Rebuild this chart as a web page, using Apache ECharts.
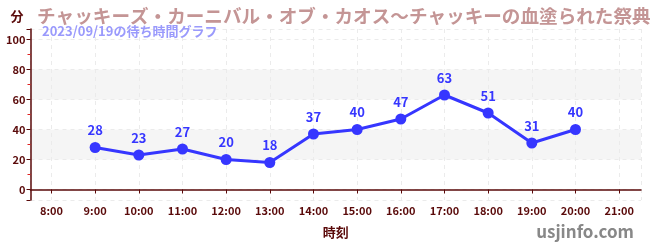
<!DOCTYPE html>
<html><head><meta charset="utf-8">
<script src="https://cdn.jsdelivr.net/npm/echarts@6/dist/echarts.min.js"></script>
<style>html,body{margin:0;padding:0;background:#fff}#c{width:650px;height:250px}</style>
</head><body><div id="c"></div>
<script>
const titleText = 'チャッキーズ・カーニバル・オブ・カオス～チャッキーの血塗られた祭典';
const subText = '2023/09/19の待ち時間グラフ';
const times = ['9:00','10:00','11:00','12:00','13:00','14:00','15:00','16:00','17:00','18:00','19:00','20:00'];
const waits = [28, 23, 27, 20, 18, 37, 40, 47, 63, 51, 31, 40];
const xTickLabels = ['8:00','9:00','10:00','11:00','12:00','13:00','14:00','15:00','16:00','17:00','18:00','19:00','20:00','21:00'];
const yTicks = [0, 20, 40, 60, 80, 100];

const hourOf = s => parseInt(s.split(':')[0], 10);
const firstHour = hourOf(xTickLabels[0]);
const lastHour = hourOf(xTickLabels[xTickLabels.length - 1]);
const seriesData = times.map((t, i) => [hourOf(t), waits[i]]);

const dark = '#5a0a0a';
const blue = '#3636ff';
const font = '"Noto Sans CJK JP", "Noto Sans", sans-serif';

const chart = echarts.init(document.getElementById('c'), null, {renderer: 'canvas'});
chart.setOption({
  animation: false,
  textStyle: {fontFamily: font},
  title: [
    {text: titleText, left: 32, top: 2, textStyle: {fontSize: 18.6, fontWeight: 'bold', color: '#c49595', fontFamily: font}},
    {text: subText, left: 37, top: 20, textStyle: {fontSize: 13, fontWeight: 'bold', color: '#9a9afc', fontFamily: font}}
  ],
  grid: {left: 30.5, right: 9, top: 29, bottom: 50},
  xAxis: {
    type: 'value',
    min: firstHour - 0.48,
    max: lastHour + 0.5,
    minInterval: 1, maxInterval: 1,
    name: '時刻', nameLocation: 'middle', nameGap: 26,
    nameTextStyle: {color: dark, fontSize: 13, fontWeight: 'bold', fontFamily: font},
    axisLine: {show: true, lineStyle: {color: dark, width: 1.5}},
    axisTick: {show: true, length: 4, lineStyle: {color: dark}},
    axisLabel: {
      showMinLabel: false, showMaxLabel: false,
      color: dark, fontSize: 11, fontWeight: 'bold', margin: 5, fontFamily: font,
      formatter: v => (Number.isInteger(v) ? xTickLabels[v - firstHour] : '')
    },
    splitLine: {show: true, lineStyle: {color: '#ebebeb', type: [4, 4]}}
  },
  yAxis: {
    type: 'value',
    min: yTicks[0] - 7,
    max: yTicks[yTicks.length - 1] + 7,
    minInterval: 20, maxInterval: 20,
    name: '分', nameLocation: 'end', nameGap: 6,
    nameTextStyle: {color: dark, fontSize: 13, fontWeight: 'bold', align: 'right', padding: [0, 7, 0, 0], fontFamily: font},
    axisLine: {show: true, lineStyle: {color: dark, width: 1.5}},
    axisTick: {show: true, length: 4, lineStyle: {color: dark}},
    minorTick: {show: true, splitNumber: 2, length: 3, lineStyle: {color: '#dd2222'}},
    axisLabel: {
      showMinLabel: false, showMaxLabel: false,
      color: dark, fontSize: 11, fontWeight: 'bold', margin: 5, fontFamily: font,
      formatter: v => (yTicks.indexOf(v) >= 0 ? String(v) : '')
    },
    splitLine: {show: true, lineStyle: {color: '#ebebeb', type: [4, 4]}},
    splitArea: {show: true, areaStyle: {color: ['#ffffff', '#ffffff', '#f5f5f5', '#ffffff', '#f5f5f5', '#ffffff', '#ffffff']}}
  },
  graphic: [
    {type: 'text', right: 16, top: 223, style: {text: 'usjinfo.com', fill: '#888888', font: 'bold 17px ' + font}}
  ],
  series: [{
    type: 'line',
    data: seriesData,
    symbol: 'circle', symbolSize: 11,
    lineStyle: {color: blue, width: 3},
    itemStyle: {color: blue},
    label: {show: true, position: 'top', distance: 5, color: blue, fontSize: 13, fontWeight: 'bold', fontFamily: font}
  }]
});
</script></body></html>
